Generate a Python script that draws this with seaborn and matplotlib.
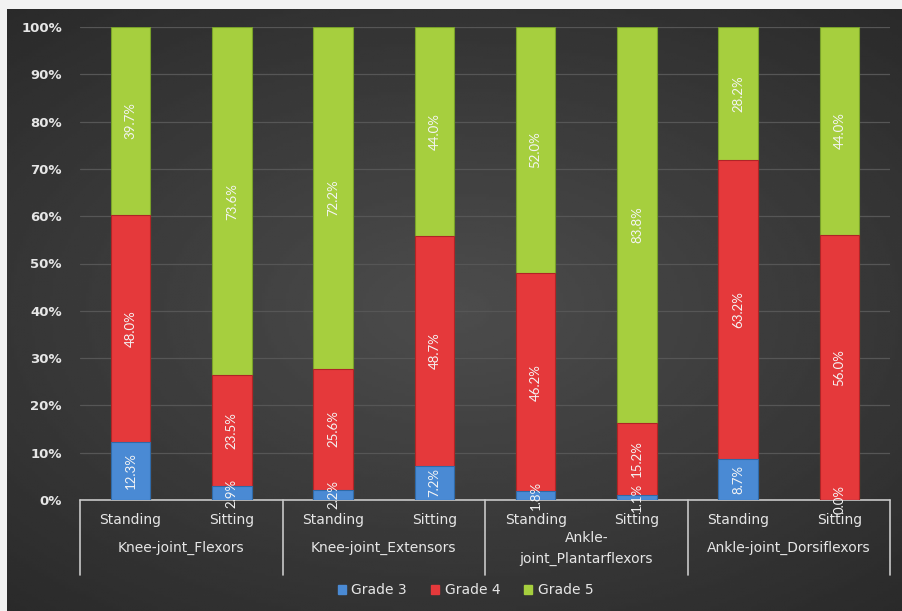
import numpy as np
import pandas as pd
import matplotlib
matplotlib.use("Agg")
import matplotlib.pyplot as plt
import matplotlib.transforms as mtransforms
import seaborn as sns

# data (percent of subjects per grade)
groups = ["Knee-joint_Flexors", "Knee-joint_Extensors",
          "Ankle-\njoint_Plantarflexors", "Ankle-joint_Dorsiflexors"]
positions = ["Standing", "Sitting"]
grade3 = [12.3, 2.9, 2.2, 7.2, 1.8, 1.1, 8.7, 0.0]
grade4 = [48.0, 23.5, 25.6, 48.7, 46.2, 15.2, 63.2, 56.0]
grade5 = [39.7, 73.6, 72.2, 44.0, 52.0, 83.8, 28.2, 44.0]
series_names = ["Grade 3", "Grade 4", "Grade 5"]
colors = ["#4a8ad4", "#e5393b", "#a6cf3e"]
edge_colors = ["#2f6aa8", "#b02427", "#78a12a"]

bar_ids = [f"{g}|{p}" for g in groups for p in positions]
df = pd.DataFrame({"bar": bar_ids, "g3": grade3, "g4": grade4, "g5": grade5})
df["c3"] = df["g3"]
df["c4"] = df["g3"] + df["g4"]
df["c5"] = np.minimum(df["c4"] + df["g5"], 100)

sns.set_style("dark")
plt.rcParams["font.family"] = ["DejaVu Sans"]
text_col = "#e6e6e6"

fig = plt.figure(figsize=(9.02, 6.11), dpi=100)
fig.patch.set_facecolor("#f2f2f2")

# dark background panel with soft radial shading
bg = fig.add_axes([7 / 902, 0, 1 - 7 / 902, 1 - 9 / 611])
yy, xx = np.mgrid[-1:1:200j, -1:1:300j]
rad = np.sqrt(xx ** 2 * 0.8 + yy ** 2)
bg.imshow(0.30 - 0.10 * rad, cmap="gray", vmin=0, vmax=1, aspect="auto",
          extent=[0, 1, 0, 1])
bg.set_axis_off()

ax = fig.add_axes([80 / 902, 111 / 611, 810 / 902, 473 / 611])
ax.set_facecolor("none")

# stacked bars by overdrawing cumulative totals
for col, c, ec in zip(["c5", "c4", "c3"], colors[::-1], edge_colors[::-1]):
    sns.barplot(data=df, x="bar", y=col, order=bar_ids, color=c, width=0.39,
                saturation=1, edgecolor=ec, linewidth=0.8, ax=ax, zorder=3)

ax.set_ylim(0, 100)
ax.set_xlim(-0.5, len(bar_ids) - 0.5)
ax.set_yticks(np.arange(0, 101, 10))
ax.set_yticklabels([f"{v}%" for v in range(0, 101, 10)], color=text_col,
                   fontsize=9.5, fontweight="bold")
ax.tick_params(axis="y", length=0, pad=13)
ax.yaxis.grid(True, color="#565656", linewidth=0.9, zorder=0)
ax.xaxis.grid(False)
for s in ax.spines.values():
    s.set_visible(False)
ax.set_xlabel("")
ax.set_ylabel("")
ax.set_xticks([])

# segment value labels
for i, row in df.iterrows():
    bottoms = [0, row["c3"], row["c4"]]
    for b, v in zip(bottoms, [row["g3"], row["g4"], row["g5"]]):
        ax.text(i, b + v / 2, f"{v:.1f}%", rotation=90, ha="center",
                va="center", color="#f4f4f4", fontsize=9.5, zorder=5,
                clip_on=False, family="Lato")

# grouped category axis below the plot
tr = mtransforms.blended_transform_factory(ax.transData, ax.transAxes)
line_kw = dict(color="#c8c8c8", linewidth=1.2, clip_on=False, transform=tr)
ax.plot([-0.5, len(bar_ids) - 0.5], [0, 0], **line_kw)
for xb in np.arange(-0.5, len(bar_ids), 2):
    ax.plot([xb, xb], [0, -0.158], **line_kw)
for i, bid in enumerate(bar_ids):
    ax.text(i, -0.042, bid.split("|")[1], transform=tr, ha="center",
            va="center", color=text_col, fontsize=10)
for j, g in enumerate(groups):
    ax.text(2 * j + 0.5, -0.102, g, transform=tr, ha="center", va="center",
            color=text_col, fontsize=10, linespacing=1.6)

handles = [plt.Rectangle((0, 0), 1, 1, color=c) for c in colors]
leg = fig.legend(handles, series_names, loc="center", ncol=3,
                 bbox_to_anchor=(0.516, 0.034), frameon=False, fontsize=10,
                 handlelength=0.6, handleheight=0.6, handletextpad=0.4,
                 columnspacing=1.7)
for t in leg.get_texts():
    t.set_color(text_col)

fig.savefig("out.png", dpi=100)
plt.close(fig)
